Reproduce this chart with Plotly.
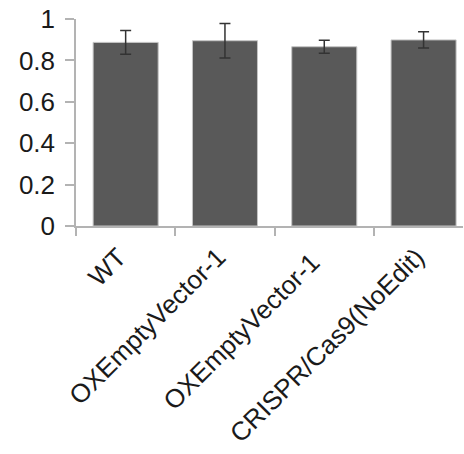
import plotly.graph_objects as go

categories = ["WT", "OXEmptyVector-1", "OXEmptyVector-1 ", "CRISPR/Cas9(NoEdit)"]
values = [0.887, 0.895, 0.866, 0.899]
errors = [0.057, 0.083, 0.031, 0.039]
y_ticks = [0, 0.2, 0.4, 0.6, 0.8, 1]
y_tick_labels = ["0", "0.2", "0.4", "0.6", "0.8", "1"]

fig = go.Figure(go.Bar(
    x=categories, y=values,
    marker=dict(color="#595959", line=dict(color="#c4c4c4", width=1)),
    error_y=dict(type="data", array=errors, visible=True, color="#333333", thickness=1.5, width=5.5),
))

fig.update_layout(
    width=464, height=454,
    margin=dict(l=76, r=1, t=19, b=228),
    plot_bgcolor="white", paper_bgcolor="white",
    bargap=0.345,
    showlegend=False,
    font=dict(family="Liberation Sans, Arial, sans-serif", size=26, color="#1a1a1a"),
)
fig.update_xaxes(
    range=[-0.5, 3.397],
    automargin=False,
    tickangle=-45,
    tickson="boundaries",
    ticks="outside", ticklen=8, tickcolor="#b3b3b3", tickwidth=1.5,
    showline=True, linecolor="#b3b3b3", linewidth=1.5,
    showgrid=False,
    ticklabeloverflow="allow",
    ticklabelshift=-7,
    ticklabelstandoff=4,
    tickfont=dict(size=26),
)
fig.update_yaxes(
    range=[0, 1],
    automargin=False,
    tickvals=y_ticks, ticktext=y_tick_labels,
    ticks="outside", ticklen=9, tickcolor="#b3b3b3", tickwidth=1.5,
    showline=True, linecolor="#b3b3b3", linewidth=1.5,
    showgrid=False, zeroline=False,
    ticklabelstandoff=5,
    ticklabeloverflow="allow",
    tickfont=dict(size=26),
)

fig.write_html(
    "out.html",
    config={"displayModeBar": False},
    post_script="document.body.style.margin='0';",
)
